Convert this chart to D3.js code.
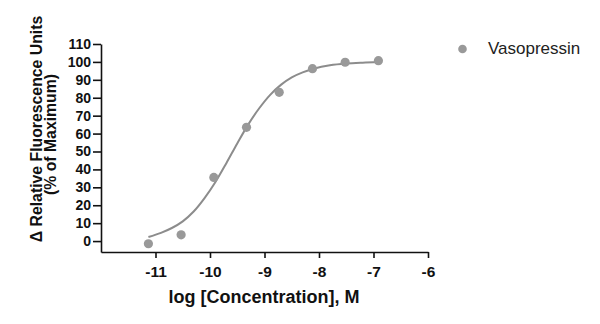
<!DOCTYPE html>
<html>
<head>
<meta charset="utf-8">
<script src="https://cdn.jsdelivr.net/npm/d3@7"></script>
<style>
html,body{margin:0;padding:0;background:#fff;}
svg{display:block;}
text{font-family:"Liberation Sans",Arial,Helvetica,sans-serif;}
</style>
</head>
<body>
<svg id="chart" width="600" height="324"></svg>
<script>
// Data
const seriesName = "Vasopressin";
const logConc = [-11.13, -10.53, -9.93, -9.33, -8.73, -8.12, -7.52, -6.91];
const response = [-1.5, 3.5, 35.5, 63.5, 83, 96.2, 99.8, 100.7];
// Fitted curve
const curveX = [-11.13, -10.9, -10.7, -10.5, -10.3, -10.1, -9.9, -9.7, -9.5, -9.3, -9.1, -8.9, -8.7, -8.5, -8.3, -8.1, -7.8, -7.5, -7.2, -6.91];
const curveY = [2.3, 4.6, 7.3, 11, 16.5, 24, 33, 43.5, 54.5, 65, 74, 81.5, 87.2, 91.4, 94.2, 96.2, 98.1, 99.1, 99.6, 99.9];
const xTicks = [-11, -10, -9, -8, -7, -6];
const yTicks = [0, 10, 20, 30, 40, 50, 60, 70, 80, 90, 100, 110];
const xTitle = "log [Concentration], M";
const yTitle1 = "\u0394 Relative Fluorescence Units";
const yTitle2 = "(% of Maximum)";

const svg = d3.select("#chart");
const x = d3.scaleLinear().domain([-12, -6]).range([101, 428]);
const y = d3.scaleLinear().domain([-6.1, 110]).range([252, 44]);
const fmt = d => String(d);

// Y axis
const yAxis = svg.append("g").attr("transform", "translate(101,0)")
  .call(d3.axisLeft(y).tickValues(yTicks).tickFormat(fmt).tickSize(8).tickSizeOuter(0).tickPadding(2));
yAxis.selectAll("text").attr("font-size", 14).attr("font-weight", "bold")
  .attr("fill", "#111").style("font-family", '"Liberation Sans",Arial,sans-serif');

// X axis
const xAxis = svg.append("g").attr("transform", "translate(0,252)")
  .call(d3.axisBottom(x).tickValues(xTicks).tickFormat(fmt).tickSize(6).tickSizeOuter(0).tickPadding(8));
xAxis.selectAll("text").attr("font-size", 15.5).attr("font-weight", "bold")
  .attr("fill", "#111").style("font-family", '"Liberation Sans",Arial,sans-serif');

svg.selectAll(".domain, .tick line").attr("stroke", "#111").attr("stroke-width", 1.6);

// Curve
const line = d3.line().x((d, i) => x(curveX[i])).y((d, i) => y(curveY[i])).curve(d3.curveCatmullRom.alpha(0.5));
svg.append("path").datum(curveX).attr("d", line)
  .attr("fill", "none").attr("stroke", "#8c8c8c").attr("stroke-width", 2);

// Points
svg.append("g").selectAll("circle").data(logConc).join("circle")
  .attr("cx", d => x(d)).attr("cy", (d, i) => y(response[i])).attr("r", 4.6)
  .attr("fill", "#999999");

// Axis titles
svg.append("text").attr("x", 264).attr("y", 303).attr("text-anchor", "middle")
  .attr("font-size", 18).attr("font-weight", "bold").attr("fill", "#111").text(xTitle);
svg.append("text").attr("transform", "translate(41.5,129) rotate(-90)").attr("text-anchor", "middle")
  .attr("font-size", 15.8).attr("font-weight", "bold").attr("fill", "#111").text(yTitle1);
svg.append("text").attr("transform", "translate(56,134.5) rotate(-90)").attr("text-anchor", "middle")
  .attr("font-size", 15.8).attr("font-weight", "bold").attr("fill", "#111").text(yTitle2);

// Legend
const lg = svg.append("g");
lg.append("circle").attr("cx", 462.5).attr("cy", 49).attr("r", 4.3).attr("fill", "#999999");
lg.append("text").attr("x", 488).attr("y", 54).attr("font-size", 17).attr("fill", "#222").text(seriesName);
</script>
</body>
</html>
